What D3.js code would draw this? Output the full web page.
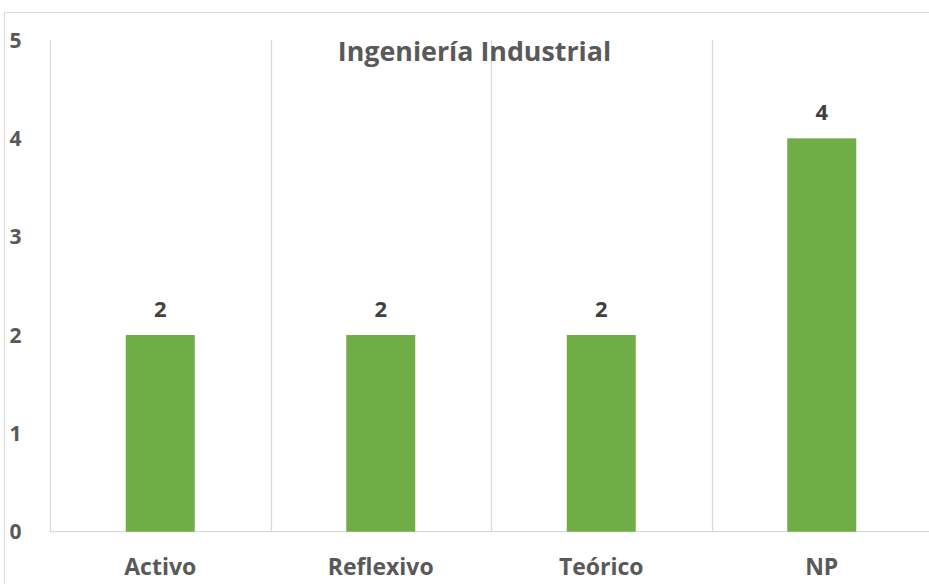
<!DOCTYPE html>
<html><head><meta charset="utf-8">
<script src="https://cdn.jsdelivr.net/npm/d3@7"></script>
<style>body{margin:0;background:#fff;}svg{display:block;}</style>
</head><body>
<script>
const categories = ["Activo", "Reflexivo", "Teórico", "NP"];
const values = [2, 2, 2, 4];
const yTicks = [0, 1, 2, 3, 4, 5];
const title = "Ingeniería Industrial";

const W = 929, H = 584;
const svg = d3.select("body").append("svg").attr("width", W).attr("height", H);
const font = "'Open Sans', Lato, sans-serif";

// outer chart border
svg.append("rect").attr("x", 4.5).attr("y", 12.5).attr("width", 940).attr("height", 600)
  .attr("fill", "none").attr("stroke", "#d9d9d9").attr("stroke-width", 1);

const x = d3.scaleBand().domain(categories).range([50, 932]).paddingInner(0).paddingOuter(0);
const y = d3.scaleLinear().domain([0, 5]).range([531.7, 40]);

// vertical gridlines at band boundaries
const bounds = categories.map(c => x(c)).concat([x.range()[1]]);
svg.append("g").selectAll("line").data(bounds).join("line")
  .attr("x1", d => Math.round(d) + 0.5).attr("x2", d => Math.round(d) + 0.5)
  .attr("y1", y(5)).attr("y2", y(0))
  .attr("stroke", "#d9d9d9").attr("stroke-width", 1.2);

// baseline
svg.append("line").attr("x1", 50).attr("x2", 932).attr("y1", y(0)).attr("y2", y(0))
  .attr("stroke", "#d9d9d9").attr("stroke-width", 1.2);

// title
svg.append("text").attr("x", 474.5).attr("y", 61).attr("text-anchor", "middle")
  .attr("font-family", font).attr("font-weight", "bold").attr("font-size", 26.8)
  .attr("fill", "#595959").text(title);

// bars
const bw = 69;
svg.append("g").selectAll("rect").data(values).join("rect")
  .attr("x", (d, i) => x(categories[i]) + x.bandwidth() / 2 - bw / 2)
  .attr("width", bw)
  .attr("y", d => y(d)).attr("height", d => y(0) - y(d))
  .attr("fill", "#70ad47");

// value labels
svg.append("g").selectAll("text").data(values).join("text")
  .attr("x", (d, i) => x(categories[i]) + x.bandwidth() / 2)
  .attr("y", d => y(d) - 18.5)
  .attr("text-anchor", "middle")
  .attr("font-family", font).attr("font-weight", "bold").attr("font-size", 22)
  .attr("fill", "#404040").text(d => d);

// y tick labels
svg.append("g").selectAll("text").data(yTicks).join("text")
  .attr("x", 15.5).attr("y", d => y(d) + 7.5)
  .attr("text-anchor", "middle")
  .attr("font-family", font).attr("font-weight", "bold").attr("font-size", 21)
  .attr("fill", "#595959").text(d => d);

// x category labels
svg.append("g").selectAll("text").data(categories).join("text")
  .attr("x", d => x(d) + x.bandwidth() / 2).attr("y", 575)
  .attr("text-anchor", "middle")
  .attr("font-family", font).attr("font-weight", "bold").attr("font-size", 23)
  .attr("fill", "#595959").text(d => d);
</script>
</body></html>
